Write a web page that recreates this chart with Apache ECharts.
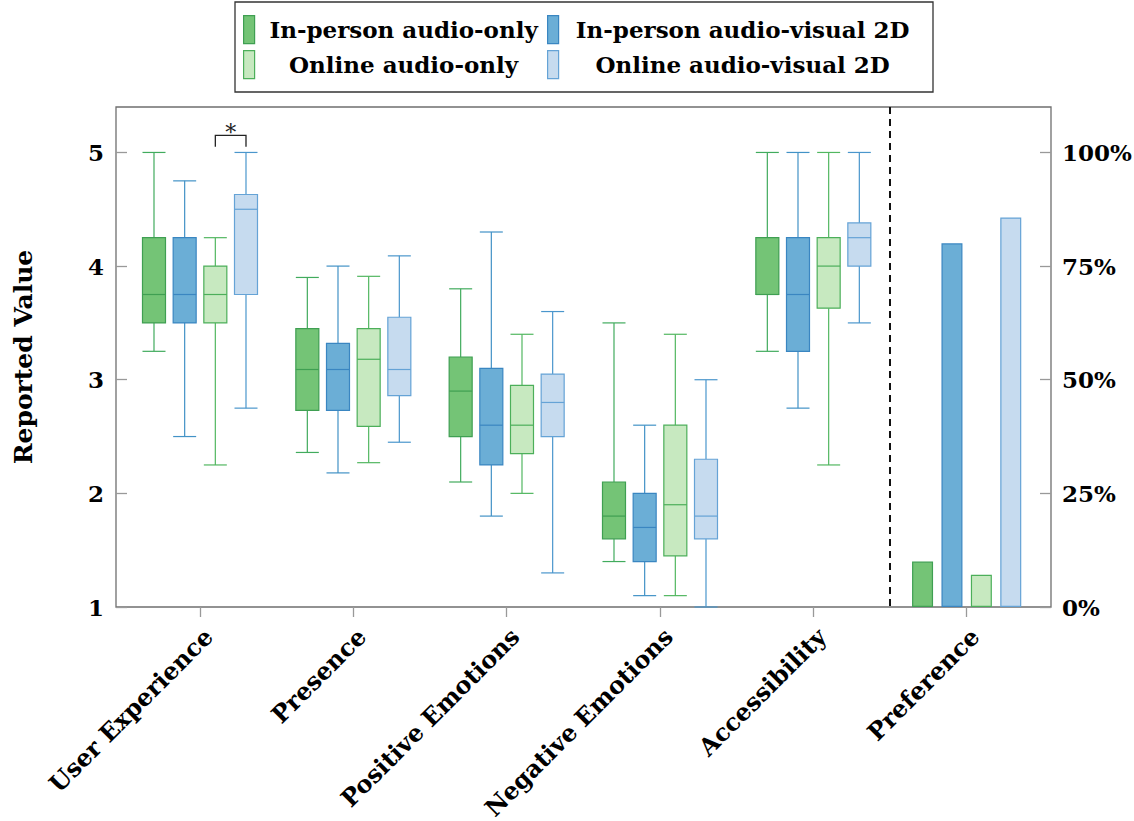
<!DOCTYPE html>
<html><head><meta charset="utf-8">
<script src="https://cdn.jsdelivr.net/npm/echarts@6/dist/echarts.min.js"></script>
<style>html,body{margin:0;padding:0;background:#fff}#c{width:1134px;height:821px}</style>
</head><body><div id="c"></div>
<script>
// ---------- data ----------
const categories = ['User Experience', 'Presence', 'Positive Emotions', 'Negative Emotions', 'Accessibility', 'Preference'];
const groupNames = ['In-person audio-only', 'In-person audio-visual 2D', 'Online audio-only', 'Online audio-visual 2D'];
// each row: [min, Q1, median, Q3, max] for the first five categories
const inPersonAudio = [
  [3.25, 3.5, 3.75, 4.25, 5.0],
  [2.36, 2.73, 3.09, 3.45, 3.9],
  [2.1, 2.5, 2.9, 3.2, 3.8],
  [1.4, 1.6, 1.8, 2.1, 3.5],
  [3.25, 3.75, 3.75, 4.25, 5.0]
];
const inPersonAV = [
  [2.5, 3.5, 3.75, 4.25, 4.75],
  [2.18, 2.73, 3.09, 3.32, 4.0],
  [1.8, 2.25, 2.6, 3.1, 4.3],
  [1.1, 1.4, 1.7, 2.0, 2.6],
  [2.75, 3.25, 3.75, 4.25, 5.0]
];
const onlineAudio = [
  [2.25, 3.5, 3.75, 4.0, 4.25],
  [2.27, 2.59, 3.18, 3.45, 3.91],
  [2.0, 2.35, 2.6, 2.95, 3.4],
  [1.1, 1.45, 1.9, 2.6, 3.4],
  [2.25, 3.63, 4.0, 4.25, 5.0]
];
const onlineAV = [
  [2.75, 3.75, 4.5, 4.63, 5.0],
  [2.45, 2.86, 3.09, 3.55, 4.09],
  [1.3, 2.5, 2.8, 3.05, 3.6],
  [1.0, 1.6, 1.8, 2.3, 3.0],
  [3.5, 4.0, 4.25, 4.38, 5.0]
];
// Preference (percent of participants), one value per group
const preferencePct = [10, 80, 7.1, 85.7];
const leftTicks = [1, 2, 3, 4, 5];
const rightTicks = [0, 25, 50, 75, 100];
// significance bracket: [category index, group a, group b, leg bottom, bracket top]
const significance = [[0, 2, 3, 5.05, 5.15]];
const dividerAfterCategory = 4;

// ---------- style ----------
const FONT = 'DejaVu Serif';
const COLORS = [
  {fill: '#74c476', border: '#3f9f52', whisker: '#41ab5d'},
  {fill: '#6baed6', border: '#3a86c1', whisker: '#4292c6'},
  {fill: '#c7e9c0', border: '#4caf5a', whisker: '#52b760'},
  {fill: '#c6dbef', border: '#65a3d6', whisker: '#4a96cc'}
];
const BOX_OFFSETS = [-0.3, -0.1, 0.1, 0.3];
const BOX_WIDTH = 0.15;
const LW = 1.2;

const boxSets = [inPersonAudio, inPersonAV, onlineAudio, onlineAV];

function boxRenderer(gi) {
  return function (params, api) {
    const bw = api.size([1, 0])[0];
    const off = BOX_OFFSETS[gi] * bw;
    const half = BOX_WIDTH * bw / 2;
    const xi = api.value(0);
    const pMin = api.coord([xi, api.value(1)]);
    const pQ1 = api.coord([xi, api.value(2)]);
    const pMed = api.coord([xi, api.value(3)]);
    const pQ3 = api.coord([xi, api.value(4)]);
    const pMax = api.coord([xi, api.value(5)]);
    const cx = pMin[0] + off;
    const c = COLORS[gi];
    const ls = {stroke: c.whisker, lineWidth: LW};
    return {type: 'group', children: [
      {type: 'line', shape: {x1: cx, y1: pMax[1], x2: cx, y2: pQ3[1]}, style: ls},
      {type: 'line', shape: {x1: cx, y1: pQ1[1], x2: cx, y2: pMin[1]}, style: ls},
      {type: 'line', shape: {x1: cx - half, y1: pMax[1], x2: cx + half, y2: pMax[1]}, style: ls},
      {type: 'line', shape: {x1: cx - half, y1: pMin[1], x2: cx + half, y2: pMin[1]}, style: ls},
      {type: 'rect', shape: {x: cx - half, y: pQ3[1], width: 2 * half, height: pQ1[1] - pQ3[1]},
        style: {fill: c.fill, stroke: c.border, lineWidth: LW}},
      {type: 'line', shape: {x1: cx - half, y1: pMed[1], x2: cx + half, y2: pMed[1]},
        style: {stroke: c.border, lineWidth: LW}}
    ]};
  };
}

const series = [];
boxSets.forEach(function (set, gi) {
  series.push({
    name: groupNames[gi], type: 'custom', xAxisIndex: 0, yAxisIndex: 0,
    renderItem: boxRenderer(gi),
    itemStyle: {color: COLORS[gi].fill, borderColor: COLORS[gi].border, borderWidth: LW},
    encode: {x: 0, y: [1, 2, 3, 4, 5]},
    data: set.map(function (r, i) { return [i].concat(r); }),
    z: 3
  });
});
preferencePct.forEach(function (v, gi) {
  const d = categories.map(function () { return '-'; });
  d[categories.length - 1] = v;
  series.push({
    name: groupNames[gi], type: 'bar', xAxisIndex: 0, yAxisIndex: 1,
    barWidth: 21, barGap: '40%',
    itemStyle: {color: COLORS[gi].fill, borderColor: COLORS[gi].border, borderWidth: LW},
    data: d, z: 3
  });
});
// divider line between Accessibility and Preference
series.push({
  type: 'custom', xAxisIndex: 0, yAxisIndex: 0, silent: true, z: 4,
  data: [[dividerAfterCategory, 1]],
  renderItem: function (params, api) {
    const bw = api.size([1, 0])[0];
    const x = api.coord([api.value(0), api.value(1)])[0] + bw / 2;
    const cs = params.coordSys;
    return {type: 'line', shape: {x1: x, y1: cs.y, x2: x, y2: cs.y + cs.height},
      style: {stroke: '#111', lineWidth: 2, lineDash: [7, 5]}};
  }
});
// significance bracket
series.push({
  type: 'custom', xAxisIndex: 0, yAxisIndex: 0, silent: true, z: 4,
  data: significance,
  renderItem: function (params, api) {
    const bw = api.size([1, 0])[0];
    const ci = api.value(0);
    const xa = api.coord([ci, api.value(3)])[0] + BOX_OFFSETS[api.value(1)] * bw;
    const xb = api.coord([ci, api.value(3)])[0] + BOX_OFFSETS[api.value(2)] * bw;
    const yLo = api.coord([ci, api.value(3)])[1];
    const yHi = api.coord([ci, api.value(4)])[1];
    return {type: 'group', children: [
      {type: 'polyline', shape: {points: [[xa, yLo], [xa, yHi], [xb, yHi], [xb, yLo]]},
        style: {stroke: '#222', lineWidth: 1.3, fill: null}},
      {type: 'text', style: {text: '*', x: (xa + xb) / 2, y: yHi - 3, align: 'center', verticalAlign: 'middle',
        font: '22px "DejaVu Serif"', fill: '#222'}}
    ]};
  }
});

const labelStyle = {fontFamily: FONT, fontWeight: 'bold', fontSize: 23, color: '#000'};
const bigLabelStyle = {fontFamily: FONT, fontWeight: 'bold', fontSize: 24, color: '#000'};

function mkLegend(gi, left, top, w) {
  const c = COLORS[gi];
  return {
    show: true, orient: 'horizontal', left: left, top: top, padding: 0,
    itemWidth: 11, itemHeight: 28, selectedMode: false,
    data: [{name: groupNames[gi], icon: 'rect', itemStyle: {color: c.fill, borderColor: c.border, borderWidth: LW}}],
    formatter: '{t|{name}}',
    textStyle: {fontFamily: FONT, fontWeight: 'bold', fontSize: 23, color: '#000',
      rich: {t: {width: w, align: 'center', fontFamily: FONT, fontWeight: 'bold', fontSize: 23, color: '#000'}}}
  };
}

const option = {
  animation: false,
  backgroundColor: '#fff',
  grid: [
    {left: 123.33, right: 90.67, top: 107, bottom: 214, outerBoundsMode: 'none', containLabel: false},
    {left: 116, right: 83, top: 107, bottom: 214, outerBoundsMode: 'none', containLabel: false,
      show: true, borderColor: '#6f6f6f', borderWidth: 1.3, backgroundColor: 'transparent'}
  ],
  legend: [
    mkLegend(0, 243, 15, 288),
    mkLegend(1, 547, 15, 358),
    mkLegend(2, 243, 50, 288),
    mkLegend(3, 547, 50, 358)
  ],
  graphic: [{type: 'rect', shape: {x: 235, y: 2, width: 698, height: 90},
    style: {fill: 'none', stroke: '#333', lineWidth: 1.3}, silent: true}],
  xAxis: [
    {gridIndex: 0, type: 'category', data: categories, boundaryGap: true,
      axisLine: {show: false},
      axisTick: {show: true, alignWithLabel: true, length: 10, lineStyle: {color: '#999', width: 1.3}},
      axisLabel: Object.assign({rotate: 45, margin: 17, interval: 0, verticalAlign: 'top'}, bigLabelStyle),
      splitLine: {show: false}},
    {gridIndex: 1, type: 'value', show: false, min: 0, max: 1}
  ],
  yAxis: [
    {gridIndex: 0, type: 'value', min: 1, max: 5.4, show: false},
    {gridIndex: 0, type: 'value', min: 0, max: 110, show: false},
    {gridIndex: 1, type: 'value', position: 'left', min: 1, max: 5.4, interval: 1,
      name: 'Reported Value', nameLocation: 'middle', nameGap: 80,
      nameTextStyle: {fontFamily: FONT, fontWeight: 'bold', fontSize: 25, color: '#000'},
      axisLine: {show: false},
      axisTick: {show: true, inside: true, length: 11, lineStyle: {color: '#999', width: 1.3}},
      axisLabel: Object.assign({margin: 12, showMaxLabel: false,
        formatter: function (v) { return leftTicks.indexOf(v) >= 0 ? String(v) : ''; }}, labelStyle),
      splitLine: {show: false}},
    {gridIndex: 1, type: 'value', position: 'right', min: 0, max: 110, interval: 25,
      axisLine: {show: false},
      axisTick: {show: true, inside: true, length: 11, lineStyle: {color: '#999', width: 1.3}},
      axisLabel: Object.assign({margin: 11, showMaxLabel: false,
        formatter: function (v) { return rightTicks.indexOf(v) >= 0 ? v + '%' : ''; }}, labelStyle),
      splitLine: {show: false}}
  ],
  series: series
};

const chart = echarts.init(document.getElementById('c'), null, {renderer: 'svg'});
chart.setOption(option);
</script>
</body></html>
